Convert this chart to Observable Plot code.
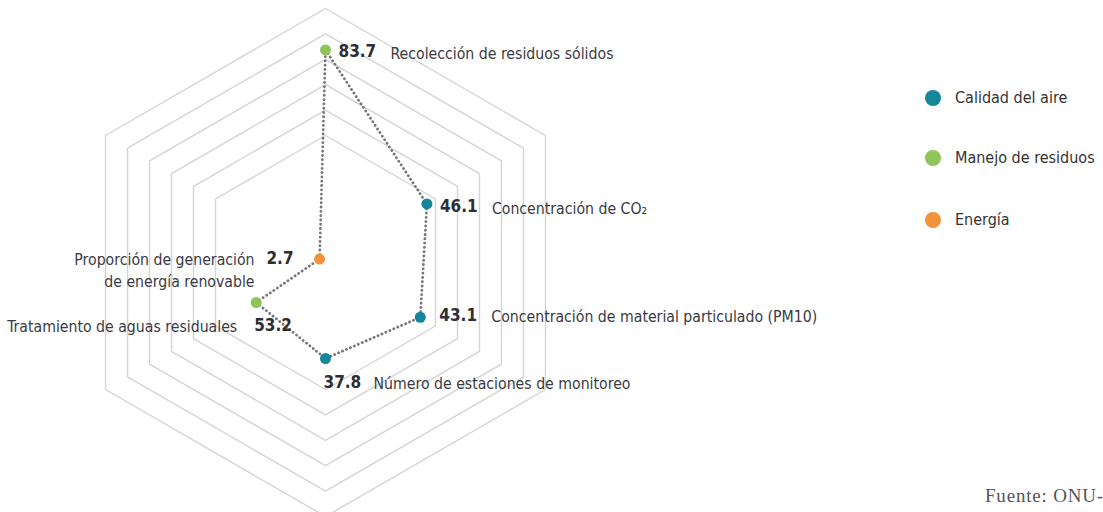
<!DOCTYPE html>
<html>
<head>
<meta charset="utf-8">
<script src="https://cdn.jsdelivr.net/npm/d3@7"></script>
<script src="https://cdn.jsdelivr.net/npm/@observablehq/plot@0.6"></script>
<style>
  html, body { margin: 0; padding: 0; background: #fff; overflow: hidden; }
  #wrap { position: relative; width: 1103px; height: 512px; }
  #legend { position: absolute; left: 0; top: 0; font-family: "Liberation Sans Narrow", "DejaVu Sans Condensed", "Liberation Sans", sans-serif; font-size: 16px; color: #333; }
  .item { position: absolute; white-space: nowrap; }
  .sw { position: absolute; width: 16px; height: 16px; border-radius: 50%; }
  #caption { position: absolute; left: 985px; top: 485px; font-family: "Liberation Serif", serif; font-size: 19px; line-height: 22px; letter-spacing: 0.8px; color: #555; white-space: nowrap; }
</style>
</head>
<body>
<div id="wrap"><div id="chart"></div><div id="legend"></div><div id="caption"></div></div>
<script>
// ---- data ----
const axisLabels = [
  "Recolección de residuos sólidos",
  "Concentración de CO₂",
  "Concentración de material particulado (PM10)",
  "Número de estaciones de monitoreo",
  "Tratamiento de aguas residuales",
  "Proporción de generación\nde energía renovable"
];
const values = [83.7, 46.1, 43.1, 37.8, 53.2, 2.7];
const valueLabels = ["83.7", "46.1", "43.1", "37.8", "53.2", "2.7"];
// radius at which each point is drawn in the reference (the 53.2 point sits at ~31.5)
const drawnValues = [83.7, 46.1, 43.1, 37.8, 31.5, 2.7];
const groups = ["Manejo de residuos", "Calidad del aire", "Calidad del aire", "Calidad del aire", "Manejo de residuos", "Energía"];
const seriesNames = ["Calidad del aire", "Manejo de residuos", "Energía"];
const seriesColors = ["#16879a", "#8dc558", "#f3923a"];
const rings = [50, 60, 70, 80, 90, 100];
const caption = "Fuente: ONU-Hábitat";

// ---- layout ----
const cx = 325, cy = 262, R = 254;
const k = R / 100;
const n = axisLabels.length;
const ang = i => (i * 2 * Math.PI) / n;
const pos = (v, i) => [v * Math.sin(ang(i)), v * Math.cos(ang(i))];

// pixel offsets for labels: [value dx, value dy, value anchor, cat dx, cat dy, cat anchor]
const labelLayout = [
  [13, 2, "start", 65, 2, "start"],
  [13, 3, "start", 65, 3, "start"],
  [19, -2, "start", 71, -2, "start"],
  [-2, 24, "start", 48, 24, "start"],
  [-2, 23, "start", -19, 23, "end"],
  [-26, -1, "end", -65, 10, "end"]
];

const ringData = [];
rings.forEach(r => {
  for (let i = 0; i <= n; i++) {
    const [x, y] = pos(r, i % n);
    ringData.push({ring: r, x, y});
  }
});

const pts = drawnValues.map((v, i) => {
  const [x, y] = pos(v, i);
  const L = labelLayout[i];
  return {
    i, x, y, group: groups[i], value: values[i], vlabel: valueLabels[i], cat: axisLabels[i],
    vx: x + L[0] / k, vy: y - L[1] / k, vAnchor: L[2],
    lx: x + L[3] / k, ly: y - L[4] / k, cAnchor: L[5]
  };
});
const closed = [...pts, pts[0]];
const colorOf = g => seriesColors[seriesNames.indexOf(g)];

const font = '"Liberation Sans Narrow", "DejaVu Sans Condensed", "Liberation Sans", sans-serif';
const textMarks = [];
for (const a of ["start", "end"]) {
  textMarks.push(Plot.text(pts.filter(d => d.vAnchor === a), {
    x: "vx", y: "vy", text: "vlabel", textAnchor: a, fontSize: 17, fontWeight: "bold", fill: "#2e2e36"
  }));
  textMarks.push(Plot.text(pts.filter(d => d.cAnchor === a), {
    x: "lx", y: "ly", text: "cat", textAnchor: a, fontSize: 15.7, fill: "#3a3a44", lineHeight: 1.37
  }));
}

const chart = Plot.plot({
  width: 1103, height: 512,
  marginTop: 0, marginBottom: 0, marginLeft: 0, marginRight: 0,
  style: {fontFamily: font, background: "transparent"},
  x: {domain: [0, 100], range: [cx, cx + R], axis: null},
  y: {domain: [0, 100], range: [cy, cy - R], axis: null},
  marks: [
    Plot.line(ringData, {x: "x", y: "y", z: "ring", stroke: "#d4d4d4", strokeWidth: 1.4}),
    Plot.line(closed, {x: "x", y: "y", stroke: "#777", strokeWidth: 2.8, strokeDasharray: "0.1 4.2", strokeLinecap: "round"}),
    Plot.dot(pts, {x: "x", y: "y", r: 5.5, fill: d => colorOf(d.group)}),
    ...textMarks
  ]
});
document.getElementById("chart").appendChild(chart);

// legend
const legend = document.getElementById("legend");
const legendTops = [98, 158, 220];
seriesNames.forEach((s, i) => {
  const sw = document.createElement("div");
  sw.className = "sw";
  sw.style.left = "925px";
  sw.style.top = (legendTops[i] - 8) + "px";
  sw.style.background = seriesColors[i];
  legend.appendChild(sw);
  const t = document.createElement("div");
  t.className = "item";
  t.style.left = "955px";
  t.style.top = (legendTops[i] - 10) + "px";
  t.textContent = s;
  legend.appendChild(t);
});
document.getElementById("caption").textContent = caption;
</script>
</body>
</html>
